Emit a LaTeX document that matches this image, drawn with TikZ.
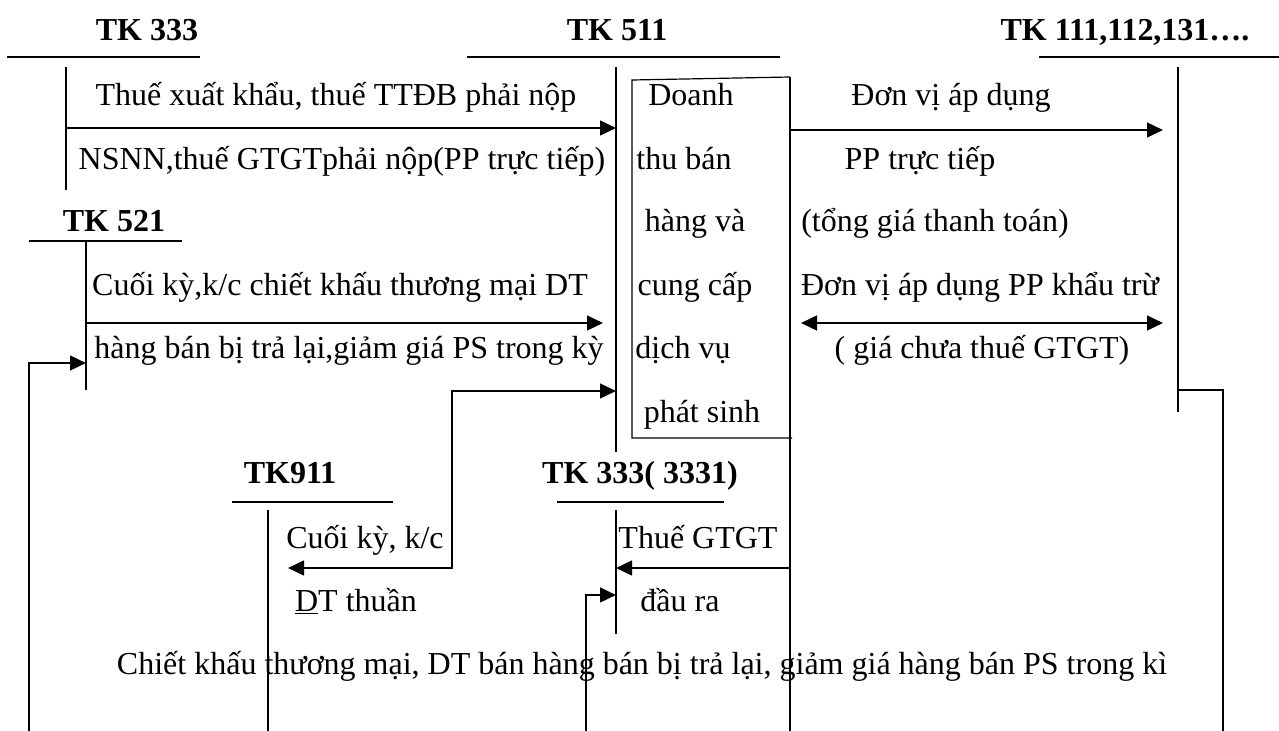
\documentclass[tikz,border=0pt]{standalone}
\usepackage{fontspec}
\setmainfont{Liberation Serif}
\usetikzlibrary{arrows.meta}
\begin{document}
\begin{tikzpicture}[x=0.75pt,y=-0.75pt,
  txt/.style={inner sep=0pt, outer sep=0pt, anchor=base, font=\fontsize{24}{28}\selectfont},
  title/.style={txt, font=\fontsize{24}{28}\selectfont\bfseries},
  tline/.style={line width=1.1pt},
  boxline/.style={line width=0.9pt},
  flow/.style={line width=1.9pt, -{Triangle[length=12pt,width=11pt]}},
  flowboth/.style={line width=1.9pt, {Triangle[length=12pt,width=11pt]}-{Triangle[length=12pt,width=11pt]}}]
\useasboundingbox[fill=white] (0,0) rectangle (1279,731);

% ---- account titles
\node[title] (t333) at (147,41) {TK 333};
\node[title] (t511) at (617,41) {TK 511};
\node[title] (t111) at (1125,41) {TK 111,112,131….};
\node[title] (t521) at (114,232) {TK 521};
\node[title] (t911) at (290,483) {TK911};
\node[title] (t3331) at (640,483) {TK 333( 3331)};

% ---- T-account rules
\coordinate (a333l) at (7,57);   \coordinate (a333r) at (200,57);
\coordinate (a333t) at (66,67);  \coordinate (a333b) at (66,190);
\coordinate (a511l) at (467,57); \coordinate (a511r) at (780,57);
\coordinate (a511t) at (616,67); \coordinate (a511b) at (616,452);
\coordinate (a111l) at (1039,57); \coordinate (a111r) at (1279,57);
\coordinate (a111t) at (1178,67); \coordinate (a111b) at (1178,412);
\coordinate (a521l) at (29,241); \coordinate (a521r) at (182,241);
\coordinate (a521t) at (86,241); \coordinate (a521b) at (86,390);
\coordinate (a911l) at (232,502); \coordinate (a911r) at (393,502);
\coordinate (a911t) at (268,510); \coordinate (a911b) at (268,731);
\coordinate (a3331l) at (557,502); \coordinate (a3331r) at (724,502);
\coordinate (a3331t) at (616,510); \coordinate (a3331b) at (616,634);

\draw[tline] (a333l) -- (a333r) (a333t) -- (a333b);
\draw[tline] (a511l) -- (a511r) (a511t) -- (a511b);
\draw[tline] (a111l) -- (a111r) (a111t) -- (a111b);
\draw[tline] (a521l) -- (a521r) (a521t) -- (a521b);
\draw[tline] (a911l) -- (a911r) (a911t) -- (a911b);
\draw[tline] (a3331l) -- (a3331r) (a3331t) -- (a3331b);

% ---- revenue box, its right side running down to the bottom
\coordinate (bxtl) at (632,80); \coordinate (bxtr) at (790,77);
\coordinate (bxbl) at (632,438); \coordinate (bxbr) at (792,438);
\coordinate (bxr) at (790,438);
\coordinate (bxend) at (790,731);
\draw[boxline] (bxtr) -- (bxtl) -- (bxbl) -- (bxbr);
\draw[tline] (bxtr) -- (bxend);

\node[txt] (d1) at (691,106) {Doanh};
\node[txt] (d2) at (684,170) {thu bán};
\node[txt] (d3) at (695,232) {hàng và};
\node[txt] (d4) at (695,296) {cung cấp};
\node[txt] (d5) at (683,358) {dịch vụ};
\node[txt] (d6) at (702,422) {phát sinh};

% ---- TK 333 -> TK 511
\draw[flow] (a333t |- 0,128) -- (a511t |- 0,128);
\node[txt] (l1a) at (336,106) {Thuế xuất khẩu, thuế TTĐB phải nộp};
\node[txt] (l1b) at (342,170) {NSNN,thuế GTGTphải nộp(PP trực tiếp)};

% ---- TK 511 -> TK 111
\draw[flow] (bxtr |- 0,130) -- (1163,130);
\node[txt] (r1a) at (951,106) {Đơn vị áp dụng};
\node[txt] (r1b) at (920,170) {PP trực tiếp};
\node[txt] (r1c) at (935,232) {(tổng giá thanh toán)};
\node[txt] (r2a) at (980,296) {Đơn vị áp dụng PP khẩu trừ};
\draw[flowboth] (801,323) -- (1163,323);
\node[txt] (r2b) at (982,358) {(\ giá chưa thuế GTGT)};

% ---- TK 521 -> TK 511
\draw[flow] (a521t |- 0,323) -- (603,323);
\node[txt] (m1a) at (340,296) {Cuối kỳ,k/c chiết khấu thương mại DT};
\node[txt] (m1b) at (349,358) {hàng bán bị trả lại,giảm giá PS trong kỳ};

% ---- TK 511 <-> TK 911
\coordinate (k1) at (452,391);
\coordinate (k2) at (452,568);
\draw[flowboth] (a511t |- k1) -- (k1) -- (k2) -- (288,568);
\node[txt] (c1) at (365,548) {Cuối kỳ, k/c};
\node[txt] (c2) at (356,611) {\underline{D}T thuần};

% ---- output VAT
\draw[flow] (bxend |- 0,568) -- (a3331t |- 0,568);
\node[txt] (v1) at (698,548) {Thuế GTGT};
\node[txt] (v2) at (680,611) {đầu ra};

% ---- returns and discounts, from below
\draw[flow] (29,731) -- (29,363) -- (a521t |- 0,363);
\draw[flow] (586,731) -- (586,595) -- (a3331t |- 0,595);
\draw[tline] (a111t |- 0,390) -- (1223,390) -- (1223,731);
\node[txt] (bot) at (642,674) {Chiết khấu thương mại, DT bán hàng bán bị trả lại, giảm giá hàng bán PS trong kì};
\end{tikzpicture}
\end{document}
